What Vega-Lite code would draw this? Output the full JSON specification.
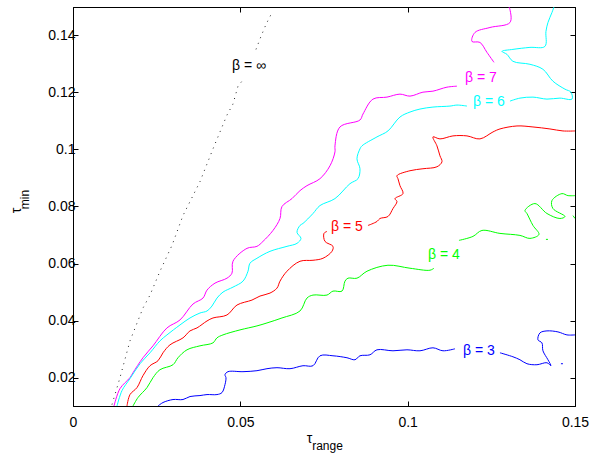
{
  "$schema": "https://vega.github.io/schema/vega-lite/v6.json",
  "width": 502,
  "height": 399,
  "autosize": {"type": "none"},
  "padding": {"left": 73, "top": 7, "right": 33, "bottom": 47},
  "background": "white",
  "config": {
    "view": {"stroke": "#000000", "strokeWidth": 1},
    "font": "Liberation Sans",
    "axis": {
      "grid": false,
      "domainColor": "#000000",
      "domainWidth": 1,
      "tickColor": "#000000",
      "tickSize": -5,
      "labelFlush": false,
      "labelOverlap": false,
      "labelColor": "#000000",
      "labelFont": "Liberation Sans",
      "labelFontSize": 14,
      "titleFont": "Liberation Sans",
      "titleFontWeight": "normal",
      "titleColor": "#000000"
    }
  },
  "datasets": {
    "inf": [
      {"s":"ia","i":1,"x":0.01165,"y":0.0105},
      {"s":"ia","i":2,"x":0.01404,"y":0.01995},
      {"s":"ia","i":3,"x":0.01703,"y":0.03286},
      {"s":"ia","i":4,"x":0.02091,"y":0.04438},
      {"s":"ia","i":5,"x":0.02301,"y":0.04892},
      {"s":"ia","i":6,"x":0.02599,"y":0.05729},
      {"s":"ia","i":7,"x":0.02958,"y":0.06637},
      {"s":"ia","i":8,"x":0.03287,"y":0.07684},
      {"s":"ia","i":9,"x":0.03794,"y":0.08871},
      {"s":"ia","i":10,"x":0.04183,"y":0.10023},
      {"s":"ia","i":11,"x":0.04392,"y":0.10616},
      {"s":"ia","i":12,"x":0.04601,"y":0.11209},
      {"s":"ia","i":13,"x":0.0478,"y":0.11594},
      {"s":"ia","i":14,"x":0.0493,"y":0.12222},
      {"s":"ia","i":15,"x":0.05049,"y":0.12396},
      {"s":"ib","i":1,"x":0.05468,"y":0.13513},
      {"s":"ib","i":2,"x":0.05617,"y":0.13967},
      {"s":"ib","i":3,"x":0.05766,"y":0.14386},
      {"s":"ib","i":4,"x":0.05946,"y":0.14805}
    ],
    "lines": [
      {"b":"7","s":"7a","i":1,"x":0.01225,"y":0.01},
      {"b":"7","s":"7a","i":2,"x":0.01404,"y":0.01611},
      {"b":"7","s":"7a","i":3,"x":0.01703,"y":0.01995},
      {"b":"7","s":"7a","i":4,"x":0.01793,"y":0.02169},
      {"b":"7","s":"7a","i":5,"x":0.02091,"y":0.02693},
      {"b":"7","s":"7a","i":6,"x":0.0239,"y":0.03111},
      {"b":"7","s":"7a","i":7,"x":0.02808,"y":0.0374},
      {"b":"7","s":"7a","i":8,"x":0.03197,"y":0.04019},
      {"b":"7","s":"7a","i":9,"x":0.03585,"y":0.04578},
      {"b":"7","s":"7a","i":10,"x":0.03884,"y":0.04787},
      {"b":"7","s":"7a","i":11,"x":0.04004,"y":0.05066},
      {"b":"7","s":"7a","i":12,"x":0.04243,"y":0.05311},
      {"b":"7","s":"7a","i":13,"x":0.04601,"y":0.05485},
      {"b":"7","s":"7a","i":14,"x":0.0475,"y":0.0566},
      {"b":"7","s":"7a","i":15,"x":0.0478,"y":0.06078},
      {"b":"7","s":"7a","i":16,"x":0.05199,"y":0.06532},
      {"b":"7","s":"7a","i":17,"x":0.05497,"y":0.06602},
      {"b":"7","s":"7a","i":18,"x":0.05677,"y":0.06776},
      {"b":"7","s":"7a","i":19,"x":0.05976,"y":0.0716},
      {"b":"7","s":"7a","i":20,"x":0.06185,"y":0.07579},
      {"b":"7","s":"7a","i":21,"x":0.06244,"y":0.07998},
      {"b":"7","s":"7a","i":22,"x":0.06543,"y":0.08277},
      {"b":"7","s":"7a","i":23,"x":0.06782,"y":0.08556},
      {"b":"7","s":"7a","i":24,"x":0.06991,"y":0.08731},
      {"b":"7","s":"7a","i":25,"x":0.0738,"y":0.08976},
      {"b":"7","s":"7a","i":26,"x":0.07679,"y":0.09429},
      {"b":"7","s":"7a","i":27,"x":0.07828,"y":0.09918},
      {"b":"7","s":"7a","i":28,"x":0.07828,"y":0.10128},
      {"b":"7","s":"7a","i":29,"x":0.07977,"y":0.10791},
      {"b":"7","s":"7a","i":30,"x":0.08575,"y":0.11035},
      {"b":"7","s":"7a","i":31,"x":0.08665,"y":0.11245},
      {"b":"7","s":"7a","i":32,"x":0.08963,"y":0.11768},
      {"b":"7","s":"7a","i":33,"x":0.09382,"y":0.11838},
      {"b":"7","s":"7a","i":34,"x":0.0977,"y":0.11943},
      {"b":"7","s":"7a","i":35,"x":0.10069,"y":0.11873},
      {"b":"7","s":"7a","i":36,"x":0.10457,"y":0.12012},
      {"b":"7","s":"7a","i":37,"x":0.10756,"y":0.12047},
      {"b":"7","s":"7a","i":38,"x":0.11174,"y":0.12187},
      {"b":"7","s":"7a","i":39,"x":0.11473,"y":0.12222},
      {"b":"7","s":"7b","i":1,"x":0.12579,"y":0.13059},
      {"b":"7","s":"7b","i":2,"x":0.12369,"y":0.13408},
      {"b":"7","s":"7b","i":3,"x":0.1216,"y":0.13757},
      {"b":"7","s":"7b","i":4,"x":0.11921,"y":0.13792},
      {"b":"7","s":"7b","i":5,"x":0.12011,"y":0.14106},
      {"b":"7","s":"7b","i":6,"x":0.12459,"y":0.14281},
      {"b":"7","s":"7b","i":7,"x":0.13057,"y":0.14456},
      {"b":"7","s":"7b","i":8,"x":0.13057,"y":0.14909},
      {"b":"7","s":"7b","i":9,"x":0.13027,"y":0.15},
      {"b":"6","s":"6a","i":1,"x":0.01315,"y":0.01},
      {"b":"6","s":"6a","i":2,"x":0.01464,"y":0.01541},
      {"b":"6","s":"6a","i":3,"x":0.01703,"y":0.0196},
      {"b":"6","s":"6a","i":4,"x":0.02002,"y":0.02483},
      {"b":"6","s":"6a","i":5,"x":0.02301,"y":0.02867},
      {"b":"6","s":"6a","i":6,"x":0.02599,"y":0.03286},
      {"b":"6","s":"6a","i":7,"x":0.02808,"y":0.03495},
      {"b":"6","s":"6a","i":8,"x":0.03197,"y":0.03844},
      {"b":"6","s":"6a","i":9,"x":0.03496,"y":0.04089},
      {"b":"6","s":"6a","i":10,"x":0.03794,"y":0.04263},
      {"b":"6","s":"6a","i":11,"x":0.04004,"y":0.04333},
      {"b":"6","s":"6a","i":12,"x":0.04153,"y":0.04508},
      {"b":"6","s":"6a","i":13,"x":0.04302,"y":0.04787},
      {"b":"6","s":"6a","i":14,"x":0.04482,"y":0.04997},
      {"b":"6","s":"6a","i":15,"x":0.0478,"y":0.05171},
      {"b":"6","s":"6a","i":16,"x":0.05079,"y":0.0538},
      {"b":"6","s":"6a","i":17,"x":0.05229,"y":0.05729},
      {"b":"6","s":"6a","i":18,"x":0.05288,"y":0.06009},
      {"b":"6","s":"6a","i":19,"x":0.05497,"y":0.06183},
      {"b":"6","s":"6a","i":20,"x":0.05886,"y":0.06427},
      {"b":"6","s":"6a","i":21,"x":0.06394,"y":0.06602},
      {"b":"6","s":"6a","i":22,"x":0.06693,"y":0.06707},
      {"b":"6","s":"6a","i":23,"x":0.06812,"y":0.06881},
      {"b":"6","s":"6a","i":24,"x":0.06693,"y":0.07091},
      {"b":"6","s":"6a","i":25,"x":0.06782,"y":0.07335},
      {"b":"6","s":"6a","i":26,"x":0.06872,"y":0.07405},
      {"b":"6","s":"6a","i":27,"x":0.07171,"y":0.07754},
      {"b":"6","s":"6a","i":28,"x":0.0738,"y":0.08033},
      {"b":"6","s":"6a","i":29,"x":0.07828,"y":0.08277},
      {"b":"6","s":"6a","i":30,"x":0.08276,"y":0.08801},
      {"b":"6","s":"6a","i":31,"x":0.08515,"y":0.08976},
      {"b":"6","s":"6a","i":32,"x":0.08575,"y":0.09325},
      {"b":"6","s":"6a","i":33,"x":0.08485,"y":0.09674},
      {"b":"6","s":"6a","i":34,"x":0.08575,"y":0.10023},
      {"b":"6","s":"6a","i":35,"x":0.08635,"y":0.10128},
      {"b":"6","s":"6a","i":36,"x":0.09083,"y":0.10442},
      {"b":"6","s":"6a","i":37,"x":0.09411,"y":0.10651},
      {"b":"6","s":"6a","i":38,"x":0.0977,"y":0.1114},
      {"b":"6","s":"6a","i":39,"x":0.10069,"y":0.11314},
      {"b":"6","s":"6a","i":40,"x":0.10368,"y":0.11419},
      {"b":"6","s":"6a","i":41,"x":0.10756,"y":0.11489},
      {"b":"6","s":"6a","i":42,"x":0.11264,"y":0.11524},
      {"b":"6","s":"6a","i":43,"x":0.11473,"y":0.11559},
      {"b":"6","s":"6a","i":44,"x":0.11772,"y":0.11524},
      {"b":"6","s":"6b","i":1,"x":0.13057,"y":0.11698},
      {"b":"6","s":"6b","i":2,"x":0.13355,"y":0.11803},
      {"b":"6","s":"6b","i":3,"x":0.13744,"y":0.11838},
      {"b":"6","s":"6b","i":4,"x":0.14162,"y":0.11768},
      {"b":"6","s":"6b","i":5,"x":0.1455,"y":0.11803},
      {"b":"6","s":"6b","i":6,"x":0.14909,"y":0.11768},
      {"b":"6","s":"6b","i":7,"x":0.14879,"y":0.12012},
      {"b":"6","s":"6b","i":8,"x":0.147,"y":0.12117},
      {"b":"6","s":"6b","i":9,"x":0.14341,"y":0.12396},
      {"b":"6","s":"6b","i":10,"x":0.14042,"y":0.12815},
      {"b":"6","s":"6b","i":11,"x":0.13654,"y":0.1299},
      {"b":"6","s":"6b","i":12,"x":0.13146,"y":0.13094},
      {"b":"6","s":"6b","i":13,"x":0.12967,"y":0.13339},
      {"b":"6","s":"6b","i":14,"x":0.12818,"y":0.13443},
      {"b":"6","s":"6b","i":15,"x":0.13146,"y":0.13513},
      {"b":"6","s":"6b","i":16,"x":0.13654,"y":0.13583},
      {"b":"6","s":"6b","i":17,"x":0.14102,"y":0.13618},
      {"b":"6","s":"6b","i":18,"x":0.14132,"y":0.14141},
      {"b":"6","s":"6b","i":19,"x":0.14192,"y":0.14456},
      {"b":"6","s":"6b","i":20,"x":0.14311,"y":0.14805},
      {"b":"6","s":"6b","i":21,"x":0.14371,"y":0.15},
      {"b":"5","s":"5a","i":1,"x":0.01613,"y":0.01},
      {"b":"5","s":"5a","i":2,"x":0.01703,"y":0.01401},
      {"b":"5","s":"5a","i":3,"x":0.01912,"y":0.01646},
      {"b":"5","s":"5a","i":4,"x":0.02091,"y":0.02065},
      {"b":"5","s":"5a","i":5,"x":0.02301,"y":0.02413},
      {"b":"5","s":"5a","i":6,"x":0.0254,"y":0.02588},
      {"b":"5","s":"5a","i":7,"x":0.02689,"y":0.02867},
      {"b":"5","s":"5a","i":8,"x":0.02898,"y":0.03146},
      {"b":"5","s":"5a","i":9,"x":0.03287,"y":0.03391},
      {"b":"5","s":"5a","i":10,"x":0.03496,"y":0.03635},
      {"b":"5","s":"5a","i":11,"x":0.03705,"y":0.0374},
      {"b":"5","s":"5a","i":12,"x":0.04004,"y":0.03984},
      {"b":"5","s":"5a","i":13,"x":0.04183,"y":0.04089},
      {"b":"5","s":"5a","i":14,"x":0.04601,"y":0.04194},
      {"b":"5","s":"5a","i":15,"x":0.049,"y":0.04543},
      {"b":"5","s":"5a","i":16,"x":0.05348,"y":0.04717},
      {"b":"5","s":"5a","i":17,"x":0.05587,"y":0.04857},
      {"b":"5","s":"5a","i":18,"x":0.05886,"y":0.04962},
      {"b":"5","s":"5a","i":19,"x":0.06095,"y":0.05136},
      {"b":"5","s":"5a","i":20,"x":0.06185,"y":0.0538},
      {"b":"5","s":"5a","i":21,"x":0.06394,"y":0.05729},
      {"b":"5","s":"5a","i":22,"x":0.06782,"y":0.06078},
      {"b":"5","s":"5a","i":23,"x":0.07171,"y":0.06113},
      {"b":"5","s":"5a","i":24,"x":0.07469,"y":0.06183},
      {"b":"5","s":"5a","i":25,"x":0.07738,"y":0.06427},
      {"b":"5","s":"5a","i":26,"x":0.07768,"y":0.06602},
      {"b":"5","s":"5a","i":27,"x":0.07529,"y":0.06776},
      {"b":"5","s":"5a","i":28,"x":0.07499,"y":0.07056},
      {"b":"5","s":"5a","i":29,"x":0.07589,"y":0.07125},
      {"b":"5","s":"5b","i":1,"x":0.08814,"y":0.07335},
      {"b":"5","s":"5b","i":2,"x":0.09083,"y":0.07474},
      {"b":"5","s":"5b","i":3,"x":0.09172,"y":0.07579},
      {"b":"5","s":"5b","i":4,"x":0.09411,"y":0.07649},
      {"b":"5","s":"5b","i":5,"x":0.09561,"y":0.07928},
      {"b":"5","s":"5b","i":6,"x":0.0968,"y":0.08173},
      {"b":"5","s":"5b","i":7,"x":0.09621,"y":0.08277},
      {"b":"5","s":"5b","i":8,"x":0.0986,"y":0.08452},
      {"b":"5","s":"5b","i":9,"x":0.0977,"y":0.08731},
      {"b":"5","s":"5b","i":10,"x":0.0971,"y":0.08976},
      {"b":"5","s":"5b","i":11,"x":0.0968,"y":0.0908},
      {"b":"5","s":"5b","i":12,"x":0.10069,"y":0.09255},
      {"b":"5","s":"5b","i":13,"x":0.10457,"y":0.09325},
      {"b":"5","s":"5b","i":14,"x":0.10875,"y":0.09394},
      {"b":"5","s":"5b","i":15,"x":0.11025,"y":0.09569},
      {"b":"5","s":"5b","i":16,"x":0.10965,"y":0.09779},
      {"b":"5","s":"5b","i":17,"x":0.10875,"y":0.10128},
      {"b":"5","s":"5b","i":18,"x":0.10756,"y":0.10442},
      {"b":"5","s":"5b","i":19,"x":0.10965,"y":0.10372},
      {"b":"5","s":"5b","i":20,"x":0.11353,"y":0.10477},
      {"b":"5","s":"5b","i":21,"x":0.11772,"y":0.10477},
      {"b":"5","s":"5b","i":22,"x":0.1216,"y":0.10372},
      {"b":"5","s":"5b","i":23,"x":0.12549,"y":0.10616},
      {"b":"5","s":"5b","i":24,"x":0.12758,"y":0.10721},
      {"b":"5","s":"5b","i":25,"x":0.13266,"y":0.10826},
      {"b":"5","s":"5b","i":26,"x":0.13744,"y":0.10791},
      {"b":"5","s":"5b","i":27,"x":0.14251,"y":0.10721},
      {"b":"5","s":"5b","i":28,"x":0.1464,"y":0.10651},
      {"b":"5","s":"5b","i":29,"x":0.15,"y":0.10651},
      {"b":"4","s":"4a","i":1,"x":0.01793,"y":0.01},
      {"b":"4","s":"4a","i":2,"x":0.01942,"y":0.01297},
      {"b":"4","s":"4a","i":3,"x":0.02211,"y":0.01646},
      {"b":"4","s":"4a","i":4,"x":0.0239,"y":0.01995},
      {"b":"4","s":"4a","i":5,"x":0.02599,"y":0.02274},
      {"b":"4","s":"4a","i":6,"x":0.02988,"y":0.02448},
      {"b":"4","s":"4a","i":7,"x":0.03137,"y":0.02693},
      {"b":"4","s":"4a","i":8,"x":0.03406,"y":0.02972},
      {"b":"4","s":"4a","i":9,"x":0.03794,"y":0.03111},
      {"b":"4","s":"4a","i":10,"x":0.04183,"y":0.03216},
      {"b":"4","s":"4a","i":11,"x":0.04302,"y":0.03391},
      {"b":"4","s":"4a","i":12,"x":0.04482,"y":0.03495},
      {"b":"4","s":"4a","i":13,"x":0.0499,"y":0.0367},
      {"b":"4","s":"4a","i":14,"x":0.05497,"y":0.0381},
      {"b":"4","s":"4a","i":15,"x":0.05796,"y":0.03914},
      {"b":"4","s":"4a","i":16,"x":0.06244,"y":0.04089},
      {"b":"4","s":"4a","i":17,"x":0.06782,"y":0.04333},
      {"b":"4","s":"4a","i":18,"x":0.06991,"y":0.04787},
      {"b":"4","s":"4a","i":19,"x":0.07171,"y":0.04892},
      {"b":"4","s":"4a","i":20,"x":0.07589,"y":0.04892},
      {"b":"4","s":"4a","i":21,"x":0.07768,"y":0.05031},
      {"b":"4","s":"4a","i":22,"x":0.08037,"y":0.05031},
      {"b":"4","s":"4a","i":23,"x":0.08127,"y":0.0538},
      {"b":"4","s":"4a","i":24,"x":0.08216,"y":0.05485},
      {"b":"4","s":"4a","i":25,"x":0.08485,"y":0.05485},
      {"b":"4","s":"4a","i":26,"x":0.08784,"y":0.05729},
      {"b":"4","s":"4a","i":27,"x":0.09411,"y":0.05939},
      {"b":"4","s":"4a","i":28,"x":0.10069,"y":0.05834},
      {"b":"4","s":"4a","i":29,"x":0.10666,"y":0.05764},
      {"b":"4","s":"4a","i":30,"x":0.10786,"y":0.05834},
      {"b":"4","s":"4b","i":1,"x":0.11533,"y":0.06811},
      {"b":"4","s":"4b","i":2,"x":0.11951,"y":0.06951},
      {"b":"4","s":"4b","i":3,"x":0.1222,"y":0.0716},
      {"b":"4","s":"4b","i":4,"x":0.12758,"y":0.07056},
      {"b":"4","s":"4b","i":5,"x":0.13355,"y":0.06986},
      {"b":"4","s":"4b","i":6,"x":0.13654,"y":0.06881},
      {"b":"4","s":"4b","i":7,"x":0.13923,"y":0.07021},
      {"b":"4","s":"4b","i":8,"x":0.13744,"y":0.07335},
      {"b":"4","s":"4b","i":9,"x":0.13564,"y":0.07754},
      {"b":"4","s":"4b","i":10,"x":0.13505,"y":0.07858},
      {"b":"4","s":"4b","i":11,"x":0.13803,"y":0.08103},
      {"b":"4","s":"4b","i":12,"x":0.14162,"y":0.07754},
      {"b":"4","s":"4b","i":13,"x":0.1455,"y":0.07579},
      {"b":"4","s":"4b","i":14,"x":0.147,"y":0.07649},
      {"b":"4","s":"4b","i":15,"x":0.14341,"y":0.07928},
      {"b":"4","s":"4b","i":16,"x":0.14311,"y":0.08207},
      {"b":"4","s":"4b","i":17,"x":0.1461,"y":0.08452},
      {"b":"4","s":"4b","i":18,"x":0.14789,"y":0.08382},
      {"b":"4","s":"4b","i":19,"x":0.15,"y":0.08382},
      {"b":"4","s":"4c","i":1,"x":0.14132,"y":0.06846},
      {"b":"4","s":"4c","i":2,"x":0.14192,"y":0.06846},
      {"b":"4","s":"4d","i":1,"x":0.1494,"y":0.0768},
      {"b":"4","s":"4d","i":2,"x":0.15,"y":0.0758},
      {"b":"3","s":"3a","i":1,"x":0.0254,"y":0.01},
      {"b":"3","s":"3a","i":2,"x":0.02689,"y":0.01122},
      {"b":"3","s":"3a","i":3,"x":0.02988,"y":0.01227},
      {"b":"3","s":"3a","i":4,"x":0.03287,"y":0.01227},
      {"b":"3","s":"3a","i":5,"x":0.03496,"y":0.01332},
      {"b":"3","s":"3a","i":6,"x":0.03794,"y":0.01366},
      {"b":"3","s":"3a","i":7,"x":0.04004,"y":0.01401},
      {"b":"3","s":"3a","i":8,"x":0.04302,"y":0.01401},
      {"b":"3","s":"3a","i":9,"x":0.04452,"y":0.01471},
      {"b":"3","s":"3a","i":10,"x":0.04541,"y":0.0175},
      {"b":"3","s":"3a","i":11,"x":0.04571,"y":0.01995},
      {"b":"3","s":"3a","i":12,"x":0.04541,"y":0.02099},
      {"b":"3","s":"3a","i":13,"x":0.04631,"y":0.02204},
      {"b":"3","s":"3a","i":14,"x":0.05079,"y":0.02204},
      {"b":"3","s":"3a","i":15,"x":0.05497,"y":0.02239},
      {"b":"3","s":"3a","i":16,"x":0.05796,"y":0.02309},
      {"b":"3","s":"3a","i":17,"x":0.06095,"y":0.02344},
      {"b":"3","s":"3a","i":18,"x":0.06484,"y":0.02309},
      {"b":"3","s":"3a","i":19,"x":0.06872,"y":0.02413},
      {"b":"3","s":"3a","i":20,"x":0.07171,"y":0.02413},
      {"b":"3","s":"3a","i":21,"x":0.0738,"y":0.02762},
      {"b":"3","s":"3a","i":22,"x":0.07768,"y":0.02762},
      {"b":"3","s":"3a","i":23,"x":0.08186,"y":0.02693},
      {"b":"3","s":"3a","i":24,"x":0.08425,"y":0.02623},
      {"b":"3","s":"3a","i":25,"x":0.08575,"y":0.02762},
      {"b":"3","s":"3a","i":26,"x":0.08874,"y":0.02797},
      {"b":"3","s":"3a","i":27,"x":0.09083,"y":0.02972},
      {"b":"3","s":"3a","i":28,"x":0.09561,"y":0.02937},
      {"b":"3","s":"3a","i":29,"x":0.09979,"y":0.02972},
      {"b":"3","s":"3a","i":30,"x":0.10368,"y":0.02937},
      {"b":"3","s":"3a","i":31,"x":0.10756,"y":0.03042},
      {"b":"3","s":"3a","i":32,"x":0.11055,"y":0.02937},
      {"b":"3","s":"3a","i":33,"x":0.11413,"y":0.03007},
      {"b":"3","s":"3b","i":1,"x":0.12758,"y":0.02867},
      {"b":"3","s":"3b","i":2,"x":0.13146,"y":0.02727},
      {"b":"3","s":"3b","i":3,"x":0.13355,"y":0.02623},
      {"b":"3","s":"3b","i":4,"x":0.13564,"y":0.02483},
      {"b":"3","s":"3b","i":5,"x":0.13863,"y":0.02448},
      {"b":"3","s":"3b","i":6,"x":0.14162,"y":0.02518},
      {"b":"3","s":"3b","i":7,"x":0.14281,"y":0.02413},
      {"b":"3","s":"3b","i":8,"x":0.14192,"y":0.02623},
      {"b":"3","s":"3b","i":9,"x":0.14042,"y":0.02937},
      {"b":"3","s":"3b","i":10,"x":0.14012,"y":0.03216},
      {"b":"3","s":"3b","i":11,"x":0.13893,"y":0.03321},
      {"b":"3","s":"3b","i":12,"x":0.13953,"y":0.03565},
      {"b":"3","s":"3b","i":13,"x":0.14162,"y":0.03635},
      {"b":"3","s":"3b","i":14,"x":0.14491,"y":0.036},
      {"b":"3","s":"3b","i":15,"x":0.14759,"y":0.03495},
      {"b":"3","s":"3b","i":16,"x":0.15,"y":0.03495},
      {"b":"3","s":"3c","i":1,"x":0.1458,"y":0.02483},
      {"b":"3","s":"3c","i":2,"x":0.1464,"y":0.02483}
    ],
    "labels": [
      {"b":"inf","t":"β = ∞","x":0.05258,"y":0.1292},
      {"b":"7","t":"β = 7","x":0.1219,"y":0.12501},
      {"b":"6","t":"β = 6","x":0.12429,"y":0.11663},
      {"b":"5","t":"β = 5","x":0.08186,"y":0.07265},
      {"b":"4","t":"β = 4","x":0.11085,"y":0.06288},
      {"b":"3","t":"β = 3","x":0.1213,"y":0.02937}
    ]
  },
  "resolve": {"axis": {"x": "independent", "y": "independent"}},
  "layer": [
    {
      "data": {"name": "lines"},
      "mark": {"type": "line", "strokeWidth": 1, "clip": true, "interpolate": "catmull-rom"},
      "encoding": {
        "x": {
          "field": "x", "type": "quantitative",
          "scale": {"domain": [0, 0.15], "nice": false, "zero": false},
          "axis": {
            "orient": "bottom", "values": [0, 0.05, 0.1, 0.15],
            "labelExpr": "format(datum.value, '.2~f')",
            "labelPadding": 14, "title": "τ", "titleFontSize": 14,
            "titleX": 236, "titleY": 36, "titleAlign": "center", "titleBaseline": "alphabetic"
          }
        },
        "y": {
          "field": "y", "type": "quantitative",
          "scale": {"domain": [0.01, 0.15], "nice": false, "zero": false},
          "axis": {
            "orient": "left", "values": [0.02, 0.04, 0.06, 0.08, 0.1, 0.12, 0.14],
            "labelExpr": "format(datum.value, '.2~f')",
            "labelPadding": 3, "title": "τ", "titleFontSize": 14, "titleAngle": 270,
            "titleX": -53, "titleY": 203, "titleAlign": "center", "titleBaseline": "alphabetic"
          }
        },
        "color": {
          "field": "b", "type": "nominal", "legend": null,
          "scale": {"domain": ["inf", "7", "6", "5", "4", "3"], "range": ["#000000", "#ff00ff", "#00ffff", "#ff0000", "#00ff00", "#0000ff"]}
        },
        "detail": {"field": "s"},
        "order": {"field": "i", "type": "quantitative"}
      }
    },
    {
      "data": {"name": "inf"},
      "mark": {"type": "line", "strokeWidth": 1, "color": "#222222", "strokeDash": [1, 5], "clip": true},
      "encoding": {
        "x": {"field": "x", "type": "quantitative", "axis": null},
        "y": {"field": "y", "type": "quantitative", "axis": null},
        "detail": {"field": "s"},
        "order": {"field": "i", "type": "quantitative"}
      }
    },
    {
      "data": {"name": "labels"},
      "mark": {"type": "text", "font": "Liberation Sans", "fontSize": 14, "baseline": "middle", "align": "center"},
      "encoding": {
        "x": {
          "field": "x", "type": "quantitative",
          "axis": {
            "orient": "top", "values": [0, 0.05, 0.1, 0.15], "labels": false,
            "title": "range", "titleFontSize": 12,
            "titleX": 254, "titleY": 442, "titleAlign": "center", "titleBaseline": "alphabetic"
          }
        },
        "y": {
          "field": "y", "type": "quantitative",
          "axis": {
            "orient": "right", "values": [0.02, 0.04, 0.06, 0.08, 0.1, 0.12, 0.14], "labels": false,
            "title": "min", "titleFontSize": 12, "titleAngle": 270,
            "titleX": -547, "titleY": 192, "titleAlign": "center", "titleBaseline": "alphabetic"
          }
        },
        "text": {"field": "t"},
        "color": {"field": "b", "type": "nominal", "legend": null}
      }
    }
  ]
}
